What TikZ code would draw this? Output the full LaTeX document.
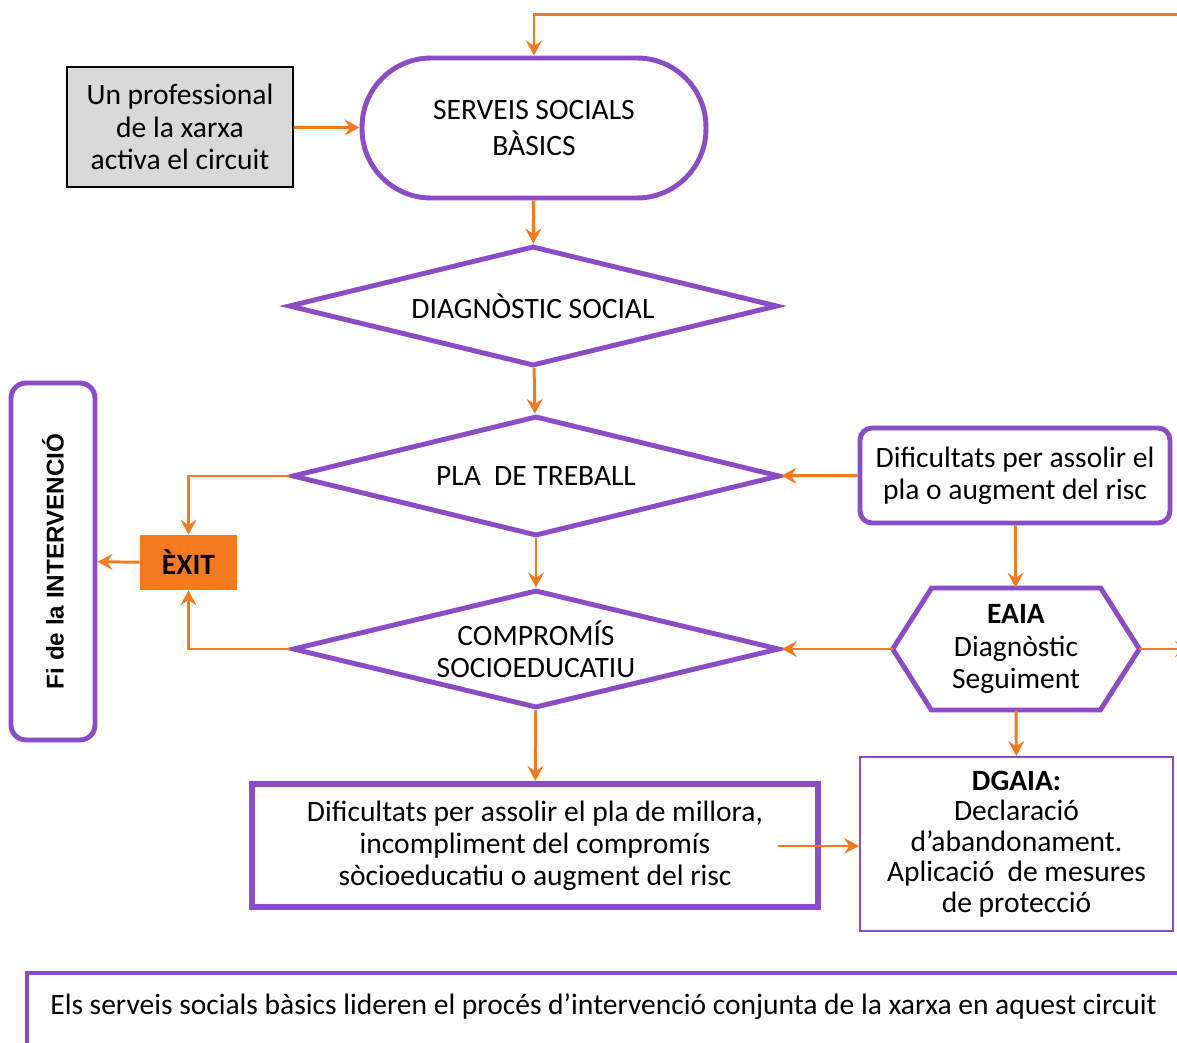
\documentclass[tikz,border=0pt]{standalone}
\usepackage{fontspec}
\setmainfont{Carlito}
\newfontfamily\arialfont{Liberation Sans}
\usepackage{tikz}
\usetikzlibrary{arrows.meta,positioning,shapes.geometric}
\definecolor{violeta}{RGB}{139,76,200}
\definecolor{taronja}{RGB}{244,122,32}
\definecolor{gris}{RGB}{217,217,217}
\tikzset{
	txt/.style={font=\fontsize{16.8}{18.3}\selectfont,align=center,text=black},
	vora/.style={draw=violeta,line width=2.8pt},
	rombe/.style={shape=diamond,vora,aspect=4,inner sep=0pt,minimum height=2.4cm,txt},
	fletxa/.style={draw=taronja,line width=1.7pt,-{Stealth[length=8.5pt,width=9pt,inset=3pt]}},
}

\begin{document}
\begin{tikzpicture}[x=0.02cm,y=-0.02cm]
		\clip (0,0) rectangle (1177,1043);
		\node (prof) at (180,127) [shape=rectangle,draw=black,fill=gris,line width=.6pt,minimum width=4.52cm,minimum height=2.4cm,txt] {Un professional\\de la xarxa\\activa el circuit};
		\node (ssb) at (534,128) [shape=rectangle,vora,rounded corners=1.38cm,minimum width=6.88cm,minimum height=2.8cm,txt] {SERVEIS SOCIALS\\[2pt]BÀSICS};
		\node (diag) at (533,306) [rombe,minimum width=9.78cm] {DIAGNÒSTIC SOCIAL};
		\node (pla) at (536,476) [rombe,minimum width=9.76cm] {PLA\ \ DE TREBALL};
		\node (comp) at (536,649) [rombe,minimum width=9.74cm,minimum height=2.36cm] {COMPROMÍS\\SOCIOEDUCATIU};
		\node (difb) at (535,845.5) [shape=rectangle,draw=violeta,line width=3.5pt,minimum width=11.32cm,minimum height=2.46cm,txt] {Dificultats per assolir el pla de millora,\\incompliment del compromís\\sòcioeducatiu o augment del risc};
		\node (dgaia) at (1016.5,844) [shape=rectangle,draw=violeta,line width=1.2pt,minimum width=6.26cm,minimum height=3.48cm,txt,font=\fontsize{16.8}{17.3}\selectfont] {\textbf{DGAIA:}\\Declaració\\d’abandonament.\\Aplicació\ \ de mesures\\de protecció};
		\node (eaia) at (1016,649) [shape=rectangle,minimum width=4.92cm,minimum height=2.44cm,txt] {\textbf{EAIA}\\Diagnòstic\\Seguiment};
		\draw [vora] (eaia.west) -- ++(39,-61) -- ++(169,0) -- (eaia.east) -- ++(-39,61) -- ++(-169,0) -- cycle;
		\node (difr) at (1015,475.5) [shape=rectangle,vora,rounded corners=.24cm,minimum width=6.2cm,minimum height=1.9cm,txt] {Dificultats per assolir el\\pla o augment del risc};
		\node (exit) at (188.5,562.5) [shape=rectangle,fill=taronja,minimum width=1.94cm,minimum height=1.1cm,txt,font=\fontsize{16.8}{18.3}\selectfont\bfseries] {ÈXIT};
		\node (fi) at (53,561.5) [shape=rectangle,vora,rounded corners=.3cm,rotate=90,minimum width=7.14cm,minimum height=1.68cm,font=\arialfont\bfseries\fontsize{13.8}{16}\selectfont] {Fi de la INTERVENCIÓ};
		\node (nota) at (50,1007) [anchor=west,inner sep=0pt,txt] {Els serveis socials bàsics lideren el procés d’intervenció conjunta de la xarxa en aquest circuit};
		\draw [draw=violeta,line width=2.3pt] (27,1060) -- (27,973) -- (1200,973);
		\coordinate (dalt) at (1190,15);
		\coordinate (difbout) at (778,846);
		\coordinate (fora) at (1190,649);
		\draw [fletxa] (dalt) -| (ssb);
		\draw [fletxa] (prof) -- (ssb);
		\draw [fletxa] (ssb) -- (diag);
		\draw [fletxa] (diag) -- (pla);
		\draw [fletxa] (pla) -- (comp);
		\draw [fletxa] (comp) -- (difb);
		\draw [fletxa] (difr) -- (pla);
		\draw [fletxa] (difr) -- (eaia);
		\draw [fletxa] (eaia) -- (comp);
		\draw [fletxa] (eaia.east) -- (fora);
		\draw [fletxa] (eaia) -- (dgaia);
		\draw [fletxa] (difbout) -- (difbout -| dgaia.west);
		\draw [fletxa] (pla) -| (exit);
		\draw [fletxa] (comp) -| (exit);
		\draw [fletxa] (exit) -- (fi);
	\end{tikzpicture}
\end{document}
